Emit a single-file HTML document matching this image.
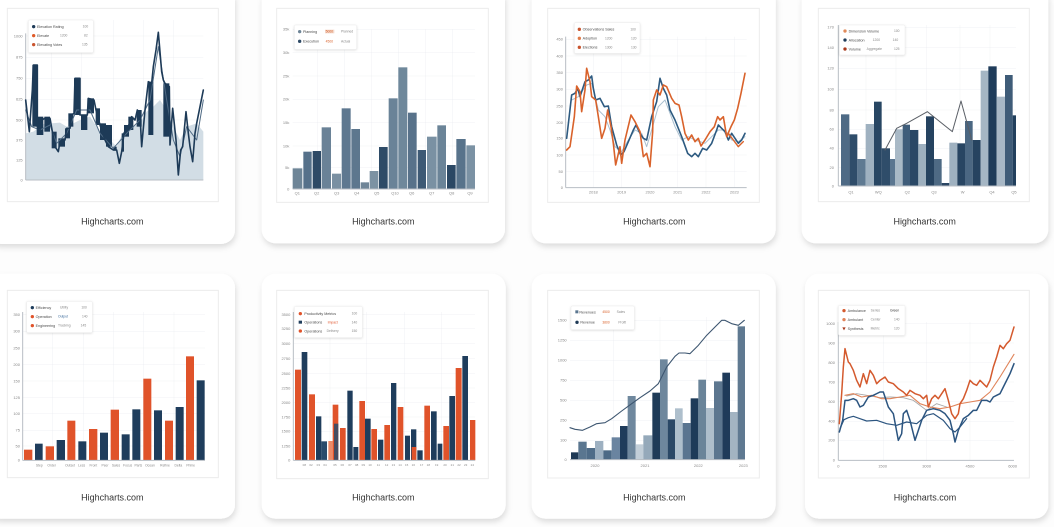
<!DOCTYPE html>
<html><head><meta charset="utf-8"><style>
html,body{margin:0;padding:0;background:#fdfdfd;}
body{width:1054px;height:527px;overflow:hidden;}
svg{display:block;}
text{font-family:"Liberation Sans",sans-serif;}
.t{font-size:12px;fill:#8a8a8a;}
.lg{font-size:11px;fill:#4a4a4a;}
.lv{font-size:10px;fill:#8a8a8a;}
.hc{font-size:27px;fill:#333;text-anchor:middle;}
.g{stroke:#e9ecef;stroke-width:1;vector-effect:non-scaling-stroke;fill:none;}
.ax{stroke:#b8bec4;stroke-width:1;vector-effect:non-scaling-stroke;fill:none;}
.fr{fill:#fff;stroke:#ececec;stroke-width:1;vector-effect:non-scaling-stroke;}
.ln{fill:none;vector-effect:non-scaling-stroke;stroke-linejoin:round;stroke-linecap:round;}
</style></head><body>
<svg width="1054" height="527" viewBox="0 0 1054 527" xmlns="http://www.w3.org/2000/svg">
<defs>
<filter id="sh" x="-10%" y="-10%" width="120%" height="130%">
<feDropShadow dx="3" dy="10" stdDeviation="9" flood-color="#000" flood-opacity="0.13"/>
</filter>
<filter id="ls" x="-10%" y="-20%" width="120%" height="150%">
<feDropShadow dx="0" dy="2" stdDeviation="3" flood-color="#000" flood-opacity="0.15"/>
</filter>
</defs>
<rect width="1054" height="527" fill="#fdfdfd"/>

<!-- ================= CARD 1 ================= -->
<g transform="translate(0,0) scale(0.333333)">
<rect x="-40" y="-40" width="745" height="772" rx="42" fill="#fff" filter="url(#sh)"/>
<rect class="fr" x="22" y="25" width="633" height="580"/>
<g class="g">
<line x1="77" y1="108" x2="610" y2="108"/><line x1="77" y1="172" x2="610" y2="172"/><line x1="77" y1="235" x2="610" y2="235"/><line x1="77" y1="298" x2="610" y2="298"/><line x1="77" y1="360" x2="610" y2="360"/><line x1="77" y1="420" x2="610" y2="420"/><line x1="77" y1="480" x2="610" y2="480" stroke-dasharray="3,3"/>
<line x1="155" y1="60" x2="155" y2="540"/><line x1="245" y1="60" x2="245" y2="540"/><line x1="340" y1="60" x2="340" y2="540"/><line x1="430" y1="60" x2="430" y2="540"/><line x1="520" y1="60" x2="520" y2="540"/>
</g>
<polygon fill="#d2dde5" points="77,400 100,395 130,372 180,368 200,380 240,360 270,350 300,395 330,420 350,440 370,395 420,370 440,335 460,320 480,300 500,330 520,380 540,420 560,380 590,370 610,395 610,540 77,540"/>
<line class="ax" x1="77" y1="100" x2="77" y2="540"/>
<line class="ax" x1="77" y1="540" x2="610" y2="540"/>
<g class="t" text-anchor="end">
<text x="68" y="112">1000</text><text x="68" y="176">875</text><text x="68" y="239">750</text><text x="68" y="302">625</text><text x="68" y="364">500</text><text x="68" y="424">375</text><text x="68" y="484">125</text><text x="68" y="544">0</text>
</g>
<g fill="#1d3a57">
<rect x="97" y="195" width="15" height="185"/><rect x="110" y="350" width="20" height="55"/><rect x="133" y="350" width="17" height="45"/><rect x="155" y="395" width="15" height="50"/><rect x="175" y="415" width="20" height="25"/><rect x="195" y="385" width="15" height="30"/><rect x="205" y="340" width="15" height="40"/><rect x="222" y="235" width="18" height="110"/><rect x="243" y="345" width="19" height="45"/><rect x="262" y="295" width="20" height="45"/><rect x="287" y="325" width="13" height="50"/><rect x="300" y="370" width="18" height="50"/><rect x="318" y="375" width="18" height="65"/><rect x="340" y="440" width="10" height="12"/><rect x="365" y="400" width="7" height="55"/><rect x="372" y="375" width="15" height="35"/><rect x="385" y="350" width="15" height="40"/><rect x="410" y="330" width="15" height="50"/><rect x="445" y="245" width="15" height="160"/><rect x="490" y="250" width="18" height="160"/>
</g>
<polyline class="ln" stroke="#4f6a84" stroke-width="1" points="77,330 95,380 120,390 150,375 170,430 200,400 230,330 270,330 300,400 340,445 380,400 420,360 450,300 475,140 500,300 520,420 540,470 560,380 590,420 610,300"/>
<polyline class="ln" stroke="#1d3a57" stroke-width="1.6" points="77,300 88,395 97,270 100,195 112,195 112,380 118,400 125,360 135,355 150,355 158,400 165,440 175,455 180,425 195,420 200,385 210,385 215,345 222,340 225,235 240,235 240,345 262,345 265,295 282,300 288,330 300,375 315,420 325,440 340,450 350,450 358,490 365,455 372,400 385,380 395,350 405,360 412,330 420,345 425,440 435,330 445,245 455,250 460,200 468,150 475,97 485,215 490,240 495,250 508,260 510,435 518,325 528,420 535,525 542,450 548,440 558,335 565,400 570,440 578,485 585,400 590,370 600,320 610,270"/>
<rect x="85" y="60" width="195" height="98" rx="4" fill="#fff" stroke="#e3e3e3" filter="url(#ls)"/>
<circle cx="101" cy="80" r="5" fill="#1d3a57"/><text class="lg" x="111" y="84">Elevation Rating</text><text class="lv" x="248" y="83">100</text>
<circle cx="101" cy="107" r="5" fill="#e05a28"/><text class="lg" x="111" y="111">Elevate</text><text class="lv" x="180" y="110">1200</text><text class="lv" x="252" y="110">82</text>
<circle cx="101" cy="134" r="5" fill="#c9542e"/><text class="lg" x="111" y="138">Elevating Votes</text><text class="lv" x="246" y="137">135</text>
<text class="hc" x="337" y="673">Highcharts.com</text>
</g>

<!-- ================= CARD 2 ================= -->
<g transform="translate(255,0) scale(0.333333)">
<rect x="20" y="-40" width="730" height="770" rx="42" fill="#fff" filter="url(#sh)"/>
<rect class="fr" x="65" y="25" width="635" height="582"/>
<g class="g">
<line x1="113" y1="88" x2="660" y2="88"/><line x1="113" y1="158" x2="660" y2="158"/><line x1="113" y1="228" x2="660" y2="228"/><line x1="113" y1="298" x2="660" y2="298"/><line x1="113" y1="368" x2="660" y2="368"/><line x1="113" y1="438" x2="660" y2="438"/><line x1="113" y1="503" x2="660" y2="503"/>
<line x1="188" y1="88" x2="188" y2="567"/><line x1="268" y1="88" x2="268" y2="567"/><line x1="350" y1="88" x2="350" y2="567"/><line x1="430" y1="88" x2="430" y2="567"/><line x1="512" y1="88" x2="512" y2="567"/><line x1="592" y1="88" x2="592" y2="567"/>
</g>
<g class="t" text-anchor="end">
<text x="103" y="92">35k</text><text x="103" y="162">30k</text><text x="103" y="232">25k</text><text x="103" y="302">20k</text><text x="103" y="372">15k</text><text x="103" y="442">10k</text><text x="103" y="507">5k</text><text x="103" y="571">0</text>
</g>
<g>
<rect x="113" y="505" width="29" height="62" fill="#6e8597"/>
<rect x="145" y="455" width="25" height="112" fill="#56718a"/>
<rect x="173" y="453" width="25" height="114" fill="#2e4a66"/>
<rect x="200" y="382" width="28" height="185" fill="#6a8297"/>
<rect x="231" y="521" width="27" height="46" fill="#7a90a2"/>
<rect x="260" y="325" width="27" height="242" fill="#5e7890"/>
<rect x="289" y="387" width="26" height="180" fill="#5d778e"/>
<rect x="317" y="547" width="25" height="20" fill="#6f8597"/>
<rect x="344" y="513" width="26" height="54" fill="#7c92a3"/>
<rect x="372" y="441" width="26" height="126" fill="#2e4b67"/>
<rect x="401" y="295" width="27" height="272" fill="#6a8398"/>
<rect x="430" y="202" width="27" height="365" fill="#6f889b"/>
<rect x="459" y="338" width="26" height="229" fill="#58728a"/>
<rect x="488" y="450" width="25" height="117" fill="#3e5a75"/>
<rect x="516" y="410" width="29" height="157" fill="#7a91a3"/>
<rect x="547" y="376" width="26" height="191" fill="#6b8498"/>
<rect x="576" y="495" width="26" height="72" fill="#2b4864"/>
<rect x="604" y="417" width="28" height="150" fill="#58738b"/>
<rect x="634" y="436" width="26" height="131" fill="#7b92a4"/>
</g>
<line class="ax" x1="113" y1="567" x2="660" y2="567"/>
<g class="t" text-anchor="middle">
<text x="127" y="584">Q1</text><text x="185" y="584">Q2</text><text x="245" y="584">Q3</text><text x="305" y="584">Q4</text><text x="365" y="584">Q5</text><text x="420" y="584">Q10</text><text x="470" y="584">Q6</text><text x="530" y="584">Q7</text><text x="590" y="584">Q8</text><text x="645" y="584">Q9</text>
</g>
<rect x="118" y="75" width="187" height="73" rx="4" fill="#fff" stroke="#e3e3e3" filter="url(#ls)"/>
<circle cx="134" cy="95" r="5" fill="#6e8597"/><text class="lg" x="144" y="99">Planning</text><rect x="210" y="89" width="28" height="11" fill="#f3d9cc"/><text class="lv" x="212" y="98" style="fill:#d9622b">5000</text><text class="lv" x="258" y="98">Planned</text>
<circle cx="134" cy="124" r="5" fill="#2e4a66"/><text class="lg" x="144" y="128">Execution</text><text class="lv" x="212" y="127" style="fill:#d9622b">4500</text><text class="lv" x="258" y="127">Actual</text>
<text class="hc" x="385" y="673">Highcharts.com</text>
</g>

<!-- ================= CARD 3 ================= -->
<g transform="translate(525,0) scale(0.333333)">
<rect x="20" y="-40" width="732" height="770" rx="42" fill="#fff" filter="url(#sh)"/>
<rect class="fr" x="68" y="25" width="635" height="582"/>
<g class="g">
<line x1="122" y1="118" x2="665" y2="118"/><line x1="122" y1="168" x2="665" y2="168"/><line x1="122" y1="218" x2="665" y2="218"/><line x1="122" y1="268" x2="665" y2="268"/><line x1="122" y1="318" x2="665" y2="318"/><line x1="122" y1="368" x2="665" y2="368"/><line x1="122" y1="415" x2="665" y2="415"/><line x1="122" y1="465" x2="665" y2="465"/><line x1="122" y1="515" x2="665" y2="515"/>
<line x1="205" y1="110" x2="205" y2="563"/><line x1="290" y1="110" x2="290" y2="563"/><line x1="375" y1="110" x2="375" y2="563"/><line x1="458" y1="110" x2="458" y2="563"/><line x1="543" y1="110" x2="543" y2="563"/><line x1="628" y1="110" x2="628" y2="563"/>
</g>
<line class="ax" x1="122" y1="110" x2="122" y2="563"/>
<line class="ax" x1="122" y1="563" x2="665" y2="563"/>
<g class="t" text-anchor="end">
<text x="114" y="122">450</text><text x="114" y="172">400</text><text x="114" y="222">350</text><text x="114" y="272">300</text><text x="114" y="322">250</text><text x="114" y="372">200</text><text x="114" y="419">150</text><text x="114" y="469">100</text><text x="114" y="519">50</text><text x="114" y="567">0</text>
</g>
<g class="t" text-anchor="middle">
<text x="205" y="581">2018</text><text x="290" y="581">2019</text><text x="375" y="581">2020</text><text x="458" y="581">2021</text><text x="543" y="581">2022</text><text x="628" y="581">2023</text>
</g>
<polyline class="ln" stroke="#a9bfcf" stroke-width="1" points="140,300 160,290 185,255 200,250 220,330 240,350 255,390 270,440 290,455 310,420 330,390 350,400 365,440 380,390 400,320 420,300 435,340 450,380 470,420 490,410 510,420 540,430 560,410 580,390 600,390 620,420 640,425 660,410"/>
<polyline class="ln" stroke="#2d5a80" stroke-width="1.6" points="125,415 140,285 150,280 158,265 165,290 170,275 180,245 190,240 200,228 205,265 212,300 225,295 238,320 250,318 260,380 275,435 287,465 297,455 310,425 325,390 333,375 345,400 355,415 365,420 380,350 395,305 405,235 415,265 425,285 435,330 450,360 470,410 488,460 500,470 510,460 520,470 533,445 545,450 560,430 575,390 580,375 590,385 600,395 610,420 620,400 630,415 640,430 650,420 660,400"/>
<polyline class="ln" stroke="#d9622b" stroke-width="1.6" points="125,450 135,440 148,350 155,258 165,275 170,335 180,270 185,205 195,245 200,290 212,300 220,350 230,415 240,385 248,330 258,380 265,430 272,495 285,440 290,490 300,420 318,345 330,365 345,395 355,470 365,460 375,500 383,395 385,300 395,270 405,285 415,255 425,260 440,295 450,310 462,315 470,350 480,400 490,420 500,405 510,425 520,415 528,438 540,420 555,395 568,380 578,350 585,360 595,350 605,410 618,380 628,360 638,325 648,280 660,220"/>
<polyline class="ln" stroke="#d9622b" stroke-width="1.4" points="610,400 625,420 640,440 655,425"/>
<rect x="148" y="68" width="197" height="92" rx="4" fill="#fff" stroke="#e3e3e3" filter="url(#ls)"/>
<circle cx="163" cy="88" r="5" fill="#c9542e"/><text class="lg" x="173" y="92">Observations Sales</text><text class="lv" x="316" y="91">100</text>
<circle cx="163" cy="115" r="5" fill="#e07a48"/><text class="lg" x="173" y="119">Adoption</text><text class="lv" x="240" y="118">1200</text><text class="lv" x="318" y="118">120</text>
<circle cx="163" cy="142" r="5" fill="#c9542e"/><text class="lg" x="173" y="146">Elections</text><text class="lv" x="240" y="145">1300</text><text class="lv" x="318" y="145">130</text>
<text class="hc" x="388" y="673">Highcharts.com</text>
</g>

<!-- ================= CARD 4 ================= -->
<g transform="translate(790,0) scale(0.333333)">
<rect x="35" y="-40" width="740" height="770" rx="42" fill="#fff" filter="url(#sh)"/>
<rect class="fr" x="85" y="25" width="633" height="580"/>
<g class="g">
<line x1="145" y1="82" x2="678" y2="82"/><line x1="145" y1="143" x2="678" y2="143"/><line x1="145" y1="205" x2="678" y2="205"/><line x1="145" y1="268" x2="678" y2="268"/><line x1="145" y1="330" x2="678" y2="330"/><line x1="145" y1="388" x2="678" y2="388"/><line x1="145" y1="445" x2="678" y2="445"/><line x1="145" y1="503" x2="678" y2="503"/>
<line x1="228" y1="75" x2="228" y2="558"/><line x1="318" y1="75" x2="318" y2="558"/><line x1="410" y1="75" x2="410" y2="558"/><line x1="510" y1="75" x2="510" y2="558"/><line x1="600" y1="75" x2="600" y2="558"/>
</g>
<line class="ax" x1="145" y1="75" x2="145" y2="558"/>
<g class="t" text-anchor="end">
<text x="132" y="86">170</text><text x="132" y="147">140</text><text x="132" y="209">120</text><text x="132" y="272">100</text><text x="132" y="334">80</text><text x="132" y="392">60</text><text x="132" y="449">40</text><text x="132" y="507">20</text><text x="132" y="562">0</text>
</g>
<g>
<rect x="153" y="343" width="25" height="215" fill="#4e6a85"/>
<rect x="178" y="403" width="24" height="155" fill="#2f4d6a"/>
<rect x="202" y="477" width="25" height="81" fill="#5f7a92"/>
<rect x="227" y="372" width="25" height="186" fill="#9fb1c0"/>
<rect x="252" y="305" width="23" height="253" fill="#284663"/>
<rect x="275" y="445" width="25" height="113" fill="#2f4d6a"/>
<rect x="300" y="477" width="15" height="81" fill="#5b7690"/>
<rect x="315" y="388" width="23" height="170" fill="#a9b9c6"/>
<rect x="338" y="374" width="22" height="184" fill="#3f5d7a"/>
<rect x="360" y="390" width="25" height="168" fill="#2a4866"/>
<rect x="385" y="432" width="23" height="126" fill="#9eb0bf"/>
<rect x="408" y="349" width="24" height="209" fill="#264360"/>
<rect x="432" y="477" width="23" height="81" fill="#4e6a84"/>
<rect x="455" y="549" width="23" height="9" fill="#2b4663"/>
<rect x="478" y="428" width="24" height="130" fill="#9fb1c0"/>
<rect x="502" y="430" width="23" height="128" fill="#284562"/>
<rect x="525" y="363" width="23" height="195" fill="#4b6782"/>
<rect x="548" y="420" width="24" height="138" fill="#264360"/>
<rect x="572" y="212" width="23" height="346" fill="#a5b6c4"/>
<rect x="595" y="199" width="25" height="359" fill="#1f3c5a"/>
<rect x="620" y="290" width="25" height="268" fill="#a8b8c6"/>
<rect x="645" y="225" width="23" height="333" fill="#3f5c78"/>
<rect x="668" y="346" width="10" height="212" fill="#22405d"/>
</g>
<polyline class="ln" stroke="#5a5f66" stroke-width="1" points="285,450 320,385 350,370 412,335 487,395 513,303 545,420"/>
<line class="ax" x1="145" y1="558" x2="678" y2="558"/>
<g class="t" text-anchor="middle">
<text x="183" y="581">Q1</text><text x="265" y="581">WQ</text><text x="352" y="581">Q2</text><text x="432" y="581">Q3</text><text x="518" y="581">W</text><text x="606" y="581">Q4</text><text x="672" y="581">Q5</text>
</g>
<rect x="148" y="75" width="197" height="90" rx="4" fill="#fff" stroke="#e3e3e3" filter="url(#ls)"/>
<circle cx="165" cy="93" r="5" fill="#e08a5a"/><text class="lg" x="176" y="97">Dimension Volume</text><text class="lv" x="312" y="96">100</text>
<circle cx="165" cy="120" r="5" fill="#1f3c5a"/><text class="lg" x="176" y="124">Allocation</text><text class="lv" x="248" y="123">1200</text><text class="lv" x="308" y="123">140</text>
<circle cx="165" cy="147" r="5" fill="#a8391c"/><text class="lg" x="176" y="151">Volume</text><text class="lv" x="230" y="150">Aggregate</text><text class="lv" x="312" y="150">125</text>
<text class="hc" x="404" y="673">Highcharts.com</text>
</g>

<!-- ================= CARD 5 ================= -->
<g transform="translate(0,267) scale(0.333333)">
<rect x="-40" y="20" width="745" height="735" rx="42" fill="#fff" filter="url(#sh)"/>
<rect class="fr" x="22" y="70" width="633" height="562"/>
<g class="g">
<line x1="68" y1="143" x2="615" y2="143"/><line x1="68" y1="193" x2="615" y2="193"/><line x1="68" y1="243" x2="615" y2="243"/><line x1="68" y1="293" x2="615" y2="293"/><line x1="68" y1="342" x2="615" y2="342"/><line x1="68" y1="392" x2="615" y2="392"/><line x1="68" y1="440" x2="615" y2="440"/><line x1="68" y1="490" x2="615" y2="490"/><line x1="68" y1="537" x2="615" y2="537"/>
<line x1="157" y1="135" x2="157" y2="580"/><line x1="250" y1="135" x2="250" y2="580"/><line x1="340" y1="135" x2="340" y2="580"/><line x1="430" y1="135" x2="430" y2="580"/><line x1="522" y1="135" x2="522" y2="580"/>
</g>
<line class="ax" x1="68" y1="135" x2="68" y2="580"/>
<g class="t" text-anchor="end">
<text x="60" y="147">350</text><text x="60" y="197">300</text><text x="60" y="247">250</text><text x="60" y="297">200</text><text x="60" y="346">150</text><text x="60" y="396">125</text><text x="60" y="444">100</text><text x="60" y="494">75</text><text x="60" y="541">50</text><text x="60" y="584">0</text>
</g>
<g>
<rect x="72" y="548" width="25" height="32" fill="#e0532a"/>
<rect x="105" y="530" width="23" height="50" fill="#1f3d5c"/>
<rect x="137" y="538" width="25" height="42" fill="#e0532a"/>
<rect x="170" y="519" width="25" height="61" fill="#1f3d5c"/>
<rect x="202" y="461" width="24" height="119" fill="#e0532a"/>
<rect x="235" y="523" width="24" height="57" fill="#1f3d5c"/>
<rect x="267" y="486" width="25" height="94" fill="#e0532a"/>
<rect x="300" y="497" width="24" height="83" fill="#1f3d5c"/>
<rect x="332" y="428" width="25" height="152" fill="#e0532a"/>
<rect x="365" y="502" width="24" height="78" fill="#1f3d5c"/>
<rect x="397" y="427" width="24" height="153" fill="#1f3d5c"/>
<rect x="430" y="335" width="24" height="245" fill="#e0532a"/>
<rect x="462" y="430" width="24" height="150" fill="#1f3d5c"/>
<rect x="495" y="461" width="24" height="119" fill="#e0532a"/>
<rect x="527" y="420" width="24" height="160" fill="#1f3d5c"/>
<rect x="558" y="268" width="24" height="312" fill="#e0532a"/>
<rect x="590" y="340" width="24" height="240" fill="#1f3d5c"/>
</g>
<line class="ax" x1="68" y1="580" x2="615" y2="580"/>
<g class="t" text-anchor="middle" style="font-size:10px">
<text x="118" y="598">Step</text><text x="155" y="598">Order</text><text x="210" y="598">Outset</text><text x="245" y="598">Less</text><text x="280" y="598">Front</text><text x="315" y="598">Peer</text><text x="348" y="598">Sales</text><text x="383" y="598">Focus</text><text x="415" y="598">Parts</text><text x="450" y="598">Ocean</text><text x="495" y="598">Refine</text><text x="535" y="598">Delta</text><text x="572" y="598">Prime</text>
</g>
<rect x="80" y="103" width="197" height="94" rx="4" fill="#fff" stroke="#e3e3e3" filter="url(#ls)"/>
<circle cx="97" cy="122" r="5" fill="#1f3d5c"/><text class="lg" x="107" y="126">Efficiency</text><text class="lv" x="180" y="125">Utility</text><text class="lv" x="244" y="125">100</text>
<circle cx="97" cy="149" r="5" fill="#e0532a"/><text class="lg" x="107" y="153">Operation</text><text class="lv" x="174" y="152" style="fill:#3a6a9a">Output</text><text class="lv" x="246" y="152">140</text>
<circle cx="97" cy="176" r="5" fill="#e0532a"/><text class="lg" x="107" y="180">Engineering</text><text class="lv" x="174" y="179">Tracking</text><text class="lv" x="242" y="179">145</text>
<text class="hc" x="337" y="700">Highcharts.com</text>
</g>

<!-- ================= CARD 6 ================= -->
<g transform="translate(255,267) scale(0.333333)">
<rect x="20" y="20" width="732" height="735" rx="42" fill="#fff" filter="url(#sh)"/>
<rect class="fr" x="65" y="70" width="635" height="565"/>
<g class="g">
<line x1="115" y1="143" x2="660" y2="143"/><line x1="115" y1="185" x2="660" y2="185"/><line x1="115" y1="230" x2="660" y2="230"/><line x1="115" y1="275" x2="660" y2="275"/><line x1="115" y1="320" x2="660" y2="320"/><line x1="115" y1="363" x2="660" y2="363"/><line x1="115" y1="407" x2="660" y2="407"/><line x1="115" y1="450" x2="660" y2="450"/><line x1="115" y1="493" x2="660" y2="493"/><line x1="115" y1="537" x2="660" y2="537"/>
<line x1="225" y1="135" x2="225" y2="580"/><line x1="335" y1="135" x2="335" y2="580"/><line x1="448" y1="135" x2="448" y2="580"/><line x1="560" y1="135" x2="560" y2="580"/>
</g>
<line class="ax" x1="115" y1="135" x2="115" y2="580"/>
<g class="t" text-anchor="end">
<text x="106" y="147">3500</text><text x="106" y="189">3250</text><text x="106" y="234">3000</text><text x="106" y="279">2750</text><text x="106" y="324">2500</text><text x="106" y="367">2250</text><text x="106" y="411">2000</text><text x="106" y="454">1750</text><text x="106" y="497">1500</text><text x="106" y="541">1250</text><text x="106" y="584">0</text>
</g>
<g>
<rect x="120" y="308" width="18" height="272" fill="#e0532a"/>
<rect x="140" y="255" width="17" height="325" fill="#1f3d5c"/>
<rect x="162" y="382" width="18" height="198" fill="#e0532a"/>
<rect x="183" y="448" width="16" height="132" fill="#1f3d5c"/>
<rect x="199" y="523" width="17" height="57" fill="#2a4b6b"/>
<rect x="220" y="522" width="13" height="58" fill="#ec8a68"/>
<rect x="233" y="413" width="17" height="167" fill="#e0532a"/>
<rect x="237" y="470" width="13" height="110" fill="#2a4b6b" opacity="0.85"/>
<rect x="255" y="483" width="17" height="97" fill="#e0532a"/>
<rect x="277" y="371" width="16" height="209" fill="#1f3d5c"/>
<rect x="295" y="540" width="15" height="40" fill="#1f3d5c"/>
<rect x="313" y="402" width="17" height="178" fill="#e0532a"/>
<rect x="330" y="455" width="17" height="125" fill="#1f3d5c"/>
<rect x="349" y="486" width="17" height="94" fill="#e0532a"/>
<rect x="369" y="518" width="16" height="62" fill="#1f3d5c"/>
<rect x="388" y="474" width="17" height="106" fill="#e0532a"/>
<rect x="408" y="348" width="16" height="232" fill="#1f3d5c"/>
<rect x="428" y="420" width="17" height="160" fill="#e0532a"/>
<rect x="450" y="506" width="15" height="74" fill="#1f3d5c"/>
<rect x="468" y="487" width="16" height="93" fill="#1f3d5c"/>
<rect x="470" y="540" width="14" height="40" fill="#e0532a"/>
<rect x="487" y="550" width="16" height="30" fill="#1f3d5c"/>
<rect x="508" y="416" width="17" height="164" fill="#e0532a"/>
<rect x="528" y="433" width="17" height="147" fill="#1f3d5c"/>
<rect x="548" y="530" width="14" height="50" fill="#1f3d5c"/>
<rect x="565" y="477" width="17" height="103" fill="#e0532a"/>
<rect x="583" y="387" width="17" height="193" fill="#1f3d5c"/>
<rect x="602" y="303" width="18" height="277" fill="#e0532a"/>
<rect x="622" y="267" width="17" height="313" fill="#1f3d5c"/>
<rect x="645" y="459" width="16" height="121" fill="#e0532a"/>
</g>
<line class="ax" x1="115" y1="580" x2="660" y2="580"/>
<g class="t" text-anchor="middle" style="font-size:9px">
<text x="148" y="597">08</text><text x="168" y="597">02</text><text x="190" y="597">03</text><text x="210" y="597">04</text><text x="240" y="597">05</text><text x="262" y="597">06</text><text x="285" y="597">07</text><text x="305" y="597">08</text><text x="325" y="597">09</text><text x="345" y="597">10</text><text x="370" y="597">11</text><text x="395" y="597">12</text><text x="415" y="597">13</text><text x="435" y="597">14</text><text x="455" y="597">15</text><text x="475" y="597">16</text><text x="500" y="597">17</text><text x="520" y="597">18</text><text x="545" y="597">19</text><text x="570" y="597">20</text><text x="592" y="597">21</text><text x="612" y="597">22</text><text x="632" y="597">23</text><text x="652" y="597">24</text>
</g>
<rect x="118" y="118" width="204" height="94" rx="4" fill="#fff" stroke="#e3e3e3" filter="url(#ls)"/>
<circle cx="136" cy="140" r="5" fill="#e0532a"/><text class="lg" x="148" y="144">Productivity Metrics</text><text class="lv" x="290" y="143">100</text>
<rect x="131" y="161" width="10" height="9" fill="#1f3d5c"/><text class="lg" x="148" y="170">Operations</text><text class="lv" x="218" y="169" style="fill:#e0532a">Impact</text><text class="lv" x="290" y="169">140</text>
<circle cx="136" cy="192" r="5" fill="#e0532a"/><text class="lg" x="148" y="196">Operations</text><text class="lv" x="215" y="195">Delivery</text><text class="lv" x="290" y="195">150</text>
<text class="hc" x="385" y="700">Highcharts.com</text>
</g>

<!-- ================= CARD 7 ================= -->
<g transform="translate(525,267) scale(0.333333)">
<rect x="20" y="20" width="732" height="735" rx="42" fill="#fff" filter="url(#sh)"/>
<rect class="fr" x="68" y="70" width="635" height="563"/>
<g class="g">
<line x1="135" y1="160" x2="660" y2="160"/><line x1="135" y1="220" x2="660" y2="220"/><line x1="135" y1="280" x2="660" y2="280"/><line x1="135" y1="340" x2="660" y2="340"/><line x1="135" y1="400" x2="660" y2="400"/><line x1="135" y1="460" x2="660" y2="460"/><line x1="135" y1="520" x2="660" y2="520"/>
<line x1="265" y1="150" x2="265" y2="578"/><line x1="405" y1="150" x2="405" y2="578"/><line x1="545" y1="150" x2="545" y2="578"/>
</g>
<g class="t" text-anchor="end">
<text x="125" y="164">1500</text><text x="125" y="224">1250</text><text x="125" y="284">1000</text><text x="125" y="344">750</text><text x="125" y="404">500</text><text x="125" y="464">250</text><text x="125" y="524">100</text><text x="125" y="582">0</text>
</g>
<g>
<rect x="138" y="556" width="22" height="22" fill="#1f3a56"/>
<rect x="160" y="524" width="25" height="54" fill="#5a7690"/>
<rect x="185" y="543" width="25" height="35" fill="#4f6c88"/>
<rect x="210" y="522" width="25" height="56" fill="#9db0c1"/>
<rect x="235" y="550" width="25" height="28" fill="#4d6a86"/>
<rect x="260" y="511" width="25" height="67" fill="#6a84a0"/>
<rect x="285" y="477" width="23" height="101" fill="#1f3c5b"/>
<rect x="308" y="387" width="24" height="191" fill="#6f889e"/>
<rect x="332" y="532" width="23" height="46" fill="#c2ced8"/>
<rect x="355" y="505" width="27" height="73" fill="#95a9ba"/>
<rect x="382" y="377" width="23" height="201" fill="#1f3b58"/>
<rect x="405" y="277" width="23" height="301" fill="#6e879d"/>
<rect x="428" y="457" width="22" height="121" fill="#2a4866"/>
<rect x="450" y="424" width="23" height="154" fill="#aebfcc"/>
<rect x="473" y="468" width="24" height="110" fill="#5a7590"/>
<rect x="497" y="394" width="23" height="184" fill="#1e3b59"/>
<rect x="520" y="338" width="23" height="240" fill="#6a8499"/>
<rect x="543" y="423" width="24" height="155" fill="#aebecb"/>
<rect x="567" y="343" width="25" height="235" fill="#5c768f"/>
<rect x="592" y="317" width="23" height="261" fill="#1f3b5a"/>
<rect x="615" y="435" width="23" height="143" fill="#a3b4c2"/>
<rect x="638" y="178" width="22" height="400" fill="#5f7991"/>
</g>
<polyline class="ln" stroke="#3d5670" stroke-width="1.1" points="135,482 150,487 172,490 195,480 215,470 240,467 260,455 290,432 320,410 345,392 375,372 400,350 425,300 450,268 462,258 480,258 495,260 520,235 545,205 570,180 590,160 600,160 620,170 640,175 658,160"/>
<line class="ax" x1="135" y1="578" x2="660" y2="578"/>
<g class="t" text-anchor="middle">
<text x="210" y="600">2020</text><text x="360" y="600">2021</text><text x="520" y="600">2022</text><text x="655" y="600">2023</text>
</g>
<rect x="138" y="117" width="190" height="71" rx="4" fill="#fff" stroke="#e3e3e3" filter="url(#ls)"/>
<rect x="151" y="130" width="9" height="9" fill="#5a7690"/><text class="lg" x="163" y="139">Revenues</text><text class="lv" x="232" y="138" style="fill:#d9622b">4500</text><text class="lv" x="275" y="138">Sales</text>
<circle cx="156" cy="166" r="5" fill="#1f3a56"/><text class="lg" x="166" y="170">Revenue</text><text class="lv" x="232" y="169" style="fill:#d9622b">3800</text><text class="lv" x="280" y="169">Profit</text>
<text class="hc" x="388" y="700">Highcharts.com</text>
</g>

<!-- ================= CARD 8 ================= -->
<g transform="translate(790,267) scale(0.333333)">
<rect x="45" y="20" width="730" height="735" rx="42" fill="#fff" filter="url(#sh)"/>
<rect class="fr" x="85" y="70" width="633" height="563"/>
<g class="g">
<line x1="145" y1="170" x2="672" y2="170"/><line x1="145" y1="228" x2="672" y2="228"/><line x1="145" y1="287" x2="672" y2="287"/><line x1="145" y1="345" x2="672" y2="345"/><line x1="145" y1="404" x2="672" y2="404"/><line x1="145" y1="463" x2="672" y2="463"/><line x1="145" y1="520" x2="672" y2="520"/>
<line x1="280" y1="165" x2="280" y2="580"/><line x1="410" y1="165" x2="410" y2="580"/><line x1="540" y1="165" x2="540" y2="580"/>
</g>
<line class="ax" x1="145" y1="165" x2="145" y2="580"/>
<g class="t" text-anchor="end">
<text x="135" y="174">1000</text><text x="135" y="232">900</text><text x="135" y="291">800</text><text x="135" y="349">700</text><text x="135" y="408">600</text><text x="135" y="467">400</text><text x="135" y="524">200</text><text x="135" y="584">0</text>
</g>
<polyline class="ln" stroke="#a8a8a8" stroke-width="0.9" points="170,387 200,380 230,385 270,392 300,390 340,392 370,400 410,430 440,410 470,420"/>
<polyline class="ln" stroke="#e0845a" stroke-width="1.1" points="165,385 190,380 215,390 245,385 275,395 300,395 330,390 360,385 390,410 420,420 450,425 480,420 510,410 540,405 570,400 600,375 630,330 672,262"/>
<polyline class="ln" stroke="#2c5580" stroke-width="1.2" points="150,485 162,458 175,452 190,448 210,455 230,462 260,460 290,470 320,475 350,465 380,470 410,445 430,440 460,460 480,485 495,495 510,480 530,455"/>
<polyline class="ln" stroke="#2c5580" stroke-width="1.5" points="148,495 158,460 165,400 175,400 190,395 200,400 210,420 220,415 235,390 250,385 270,375 280,375 295,420 310,440 325,520 335,500 340,440 350,430 360,460 370,500 375,520 385,490 395,460 410,430 430,425 450,430 465,440 480,460 490,500 495,525 505,490 520,455 535,445 550,430 560,430 575,400 590,400 600,405 610,390 620,385 630,380 640,360 660,320 672,290"/>
<polyline class="ln" stroke="#d45a2e" stroke-width="1.5" points="148,470 155,380 160,300 165,245 175,285 180,290 190,310 200,340 210,360 220,320 230,350 240,310 250,325 260,350 270,340 285,330 295,345 310,350 325,365 340,375 350,385 360,370 375,380 390,385 400,395 410,385 415,420 425,395 435,385 445,395 455,380 465,365 475,400 485,440 495,455 505,440 510,410 520,395 530,370 540,340 550,350 560,355 570,340 580,350 590,360 600,340 610,300 620,270 630,235 640,245 650,230 660,220 672,180"/>
<line class="ax" x1="145" y1="580" x2="672" y2="580"/>
<g class="t" text-anchor="middle">
<text x="145" y="602">0</text><text x="278" y="602">1500</text><text x="410" y="602">3000</text><text x="540" y="602">4500</text><text x="668" y="602">6000</text>
</g>
<rect x="145" y="115" width="200" height="90" rx="4" fill="#fff" stroke="#e3e3e3" filter="url(#ls)"/>
<circle cx="162" cy="131" r="5" fill="#d45a2e"/><text class="lg" x="173" y="135">Ambulance</text><text class="lv" x="242" y="134">Series</text><text class="lv" x="300" y="134" style="fill:#333">Green</text>
<circle cx="162" cy="158" r="5" fill="#e0845a"/><text class="lg" x="173" y="162">Ambulant</text><text class="lv" x="242" y="161">Center</text><text class="lv" x="312" y="161">140</text>
<path d="M157,181 L167,181 L162,190 Z" fill="#a8391c"/><text class="lg" x="173" y="189">Synthesis</text><text class="lv" x="242" y="188">Metric</text><text class="lv" x="312" y="188">120</text>
<text class="hc" x="405" y="700">Highcharts.com</text>
</g>
</svg>
</body></html>
